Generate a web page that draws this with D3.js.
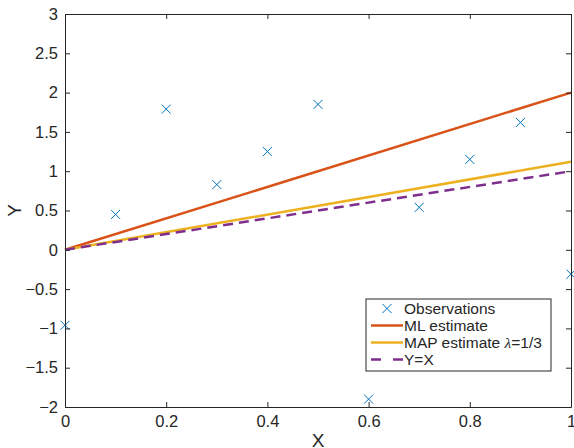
<!DOCTYPE html>
<html>
<head>
<meta charset="utf-8">
<script src="https://cdn.jsdelivr.net/npm/d3@7"></script>
<style>
  body { margin: 0; background: #fff; }
  text { font-family: "Liberation Sans", Arial, Helvetica, sans-serif; fill: #262626; }
</style>
</head>
<body>
<svg id="chart" width="574" height="448"></svg>
<script>
// observations
const obsX = [0, 0.1, 0.2, 0.3, 0.4, 0.5, 0.6, 0.7, 0.8, 0.9, 1.0];
const obsY = [-0.96, 0.45, 1.79, 0.83, 1.25, 1.85, -1.9, 0.54, 1.15, 1.62, -0.31];

// fitted slopes
const mlSlope = 2.0;
const mapSlope = 1.12;
const idSlope = 1.0;
const lineX = [0, 1];

const xTicks = [0, 0.2, 0.4, 0.6, 0.8, 1];
const yTicks = [-2, -1.5, -1, -0.5, 0, 0.5, 1, 1.5, 2, 2.5, 3];

const colors = {
  obs: '#0072BD',
  ml: '#D95319',
  map: '#EDB120',
  id: '#7E2F8E'
};

const svg = d3.select('#chart');
const box = { left: 65, right: 571, top: 14, bottom: 407 };

const x = d3.scaleLinear().domain([0, 1]).range([box.left, box.right]);
const y = d3.scaleLinear().domain([-2, 3]).range([box.bottom, box.top]);

const plot = svg.append('g');

// observations (x markers)
const m = 4.5;
plot.selectAll('path.obs')
  .data(obsX.map((v, i) => [v, obsY[i]]))
  .join('path')
  .attr('class', 'obs')
  .attr('d', d => {
    const cx = x(d[0]), cy = y(d[1]);
    return `M${cx - m},${cy - m}L${cx + m},${cy + m}M${cx - m},${cy + m}L${cx + m},${cy - m}`;
  })
  .attr('stroke', colors.obs)
  .attr('stroke-width', 1)
  .attr('fill', 'none');

const line = slope => d3.line()
  .x(d => x(d))
  .y(d => y(slope * d))(lineX);

plot.append('path').attr('d', line(mlSlope))
  .attr('stroke', colors.ml).attr('stroke-width', 2.5).attr('fill', 'none');
plot.append('path').attr('d', line(mapSlope))
  .attr('stroke', colors.map).attr('stroke-width', 2.5).attr('fill', 'none');
plot.append('path').attr('d', line(idSlope))
  .attr('stroke', colors.id).attr('stroke-width', 2.5).attr('fill', 'none')
  .attr('stroke-dasharray', '10,6');

// axes box with inward ticks
const axisColor = '#262626';
const tickLen = 5;

const gx = svg.append('g').attr('transform', `translate(0,${box.bottom})`)
  .call(d3.axisBottom(x).tickValues(xTicks).tickSizeInner(-tickLen).tickSizeOuter(0)
    .tickPadding(8).tickFormat(d3.format('')));
const gxTop = svg.append('g').attr('transform', `translate(0,${box.top})`)
  .call(d3.axisTop(x).tickValues(xTicks).tickSizeInner(-tickLen).tickSizeOuter(0).tickFormat(''));
const gy = svg.append('g').attr('transform', `translate(${box.left},0)`)
  .call(d3.axisLeft(y).tickValues(yTicks).tickSizeInner(-tickLen).tickSizeOuter(0)
    .tickPadding(7).tickFormat(d3.format('')));
const gyRight = svg.append('g').attr('transform', `translate(${box.right},0)`)
  .call(d3.axisRight(y).tickValues(yTicks).tickSizeInner(-tickLen).tickSizeOuter(0).tickFormat(''));

[gx, gxTop, gy, gyRight].forEach(g => {
  g.selectAll('path.domain').attr('stroke', axisColor).attr('stroke-width', 1);
  g.selectAll('.tick line').attr('stroke', axisColor).attr('stroke-width', 1);
  g.selectAll('.tick text').attr('font-size', 16.5).attr('fill', axisColor)
    .attr('font-family', '"Liberation Sans", Arial, sans-serif');
});
gx.selectAll('.tick text').attr('dy', '0.71em');

svg.append('text').attr('x', (box.left + box.right) / 2).attr('y', 447)
  .attr('text-anchor', 'middle').attr('font-size', 19).text('X');
svg.append('text').attr('transform', `translate(21,${(box.top + box.bottom) / 2}) rotate(-90)`)
  .attr('text-anchor', 'middle').attr('font-size', 19).text('Y');

// legend
const legend = svg.append('g').attr('transform', 'translate(366,299)');
legend.append('rect').attr('width', 185).attr('height', 72)
  .attr('fill', '#fff').attr('stroke', axisColor).attr('stroke-width', 1);

const legendItems = [
  { kind: 'obs', label: 'Observations' },
  { kind: 'ml', label: 'ML estimate' },
  { kind: 'map', label: 'MAP estimate ' },
  { kind: 'id', label: 'Y=X' }
];

legendItems.forEach((it, i) => {
  const cy = 9.5 + i * 17;
  const g = legend.append('g').attr('transform', `translate(0,${cy})`);
  if (it.kind === 'obs') {
    const cx = 21;
    g.append('path')
      .attr('d', `M${cx - m},${-m}L${cx + m},${m}M${cx - m},${m}L${cx + m},${-m}`)
      .attr('stroke', colors.obs).attr('stroke-width', 1);
  } else {
    g.append('line').attr('x1', 5).attr('x2', 37).attr('y1', 0).attr('y2', 0)
      .attr('stroke', colors[it.kind]).attr('stroke-width', 2.5)
      .attr('stroke-dasharray', it.kind === 'id' ? '10,12' : null);
  }
  const t = g.append('text').attr('x', 38).attr('y', 5.5).attr('font-size', 15.5).text(it.label);
  if (it.kind === 'map') {
    t.append('tspan').attr('font-family', '"Liberation Serif", "Times New Roman", serif')
      .attr('font-style', 'italic').text('λ');
    t.append('tspan').text('=1/3');
  }
});
</script>
</body>
</html>
